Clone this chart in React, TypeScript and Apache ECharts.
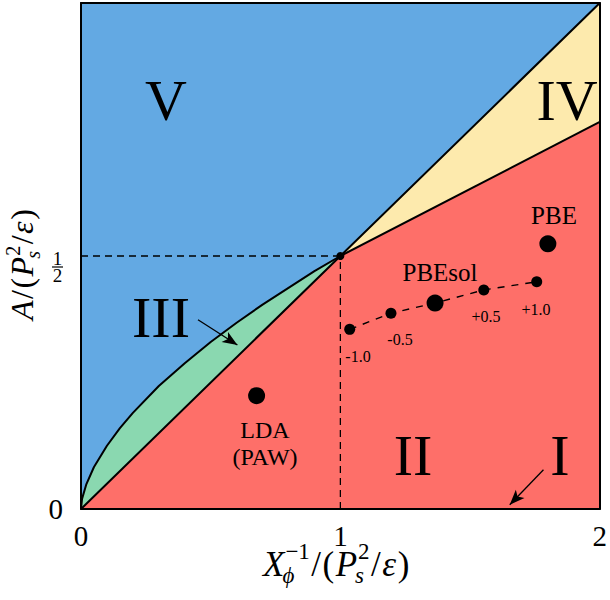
import React, { useEffect, useRef } from "react";
import * as echarts from "echarts";

// ---- data ----
const curveX = [0, 0.004, 0.02, 0.05, 0.1, 0.15, 0.2, 0.3, 0.4, 0.5, 0.6, 0.7, 0.8, 0.9, 1.0];
const curveY = [0, 0.02, 0.048, 0.083, 0.125, 0.16, 0.19, 0.243, 0.288, 0.33, 0.368, 0.404, 0.437, 0.47, 0.5];
const diagX = [0, 1, 2];
const diagY = [0, 0.5, 1];
const redTopX = [1, 2];
const redTopY = [0.5, 0.765];
const critical = [1, 0.5];
const bigDotNames = ["LDA (PAW)", "PBEsol", "PBE"];
const bigDotX = [0.677, 1.365, 1.8];
const bigDotY = [0.224, 0.407, 0.524];
const strainLabels = ["-1.0", "-0.5", "+0.5", "+1.0"];
const strainX = [1.036, 1.195, 1.553, 1.757];
const strainY = [0.355, 0.387, 0.433, 0.449];
const strainLineX = [1.036, 1.195, 1.365, 1.553, 1.757];
const strainLineY = [0.355, 0.387, 0.407, 0.433, 0.449];
const arrowFrom = [[0.451, 0.374], [1.783, 0.0776]];
const arrowTo = [[0.603, 0.324], [1.653, 0.0085]];
const xTicks = [0, 1, 2];
const regionNames = ["V", "IV", "III", "II", "I"];

const FAMILY = "Liberation Serif";
const BLUE = "#63a9e3";
const RED = "#fe6f69";
const GREEN = "#8ad8b0";
const YELLOW = "#fdeaad";

const zip = (xs: number[], ys: number[]) => xs.map((x, i) => [x, ys[i]]);

type Tok = { t: string; it?: boolean; sub?: string; subIt?: boolean; sup?: string };

let measureCtx: CanvasRenderingContext2D | null = null;
function measure(text: string, size: number, italic: boolean) {
  if (!measureCtx) measureCtx = document.createElement("canvas").getContext("2d");
  if (!measureCtx) return text.length * size * 0.5;
  measureCtx.font = `${italic ? "italic " : ""}${size}px "${FAMILY}"`;
  return measureCtx.measureText(text).width;
}

function textStyle(s: string, size: number, italic: boolean, align: string) {
  return {
    text: s,
    fontFamily: FAMILY,
    fontSize: size,
    fontStyle: italic ? "italic" : "normal",
    fill: "#000",
    align,
    textAlign: align,
    verticalAlign: "middle",
    textVerticalAlign: "middle",
  };
}

function mathChildren(tokens: Tok[], size: number, ss: number, raise: number) {
  const children: any[] = [];
  let x = 0;
  const put = (s: string, px: number, base: number, sz: number, it: boolean) => {
    children.push({
      type: "text",
      x: px,
      y: base - 0.3375 * sz,
      style: textStyle(s, sz, it, "left"),
    });
  };
  tokens.forEach((tk) => {
    const it = !!tk.it;
    put(tk.t, x, 0, size, it);
    x += measure(tk.t, size, it);
    let adv = 0;
    if (tk.sup) {
      put(tk.sup, x + 1, -raise * size, ss, false);
      adv = Math.max(adv, measure(tk.sup, ss, false) + 1);
    }
    if (tk.sub) {
      put(tk.sub, x - 2, 0.2 * size, ss, !!tk.subIt);
      adv = Math.max(adv, measure(tk.sub, ss, !!tk.subIt) - 2);
    }
    x += adv + 1.5;
  });
  return children;
}

const xNameTokens: Tok[] = [
  { t: "X", it: true, sub: "\u03d5", subIt: true, sup: "\u22121" },
  { t: "/" },
  { t: "(" },
  { t: "P", it: true, sub: "s", subIt: true, sup: "2" },
  { t: "/" },
  { t: "\u03b5", it: true },
  { t: ")" },
];
const yNameTokens: Tok[] = [
  { t: "A", it: true },
  { t: "/" },
  { t: "(" },
  { t: "P", it: true, sub: "s", subIt: true, sup: "2" },
  { t: "/" },
  { t: "\u03b5", it: true },
  { t: ")" },
];

function txt(s: string, x: number, y: number, size: number) {
  return { type: "text", x, y, z: 100, style: textStyle(s, size, false, "center") };
}

export default function App() {
  const ref = useRef<HTMLDivElement>(null);
  useEffect(() => {
    if (!ref.current) return;
    const chart = echarts.init(ref.current, null, { renderer: "svg" });
    const frameAxis = {
      type: "value",
      axisLine: { show: true, onZero: false, lineStyle: { color: "#000", width: 2 } },
      axisTick: { show: false },
      splitLine: { show: false },
      axisLabel: { show: false },
      z: 10,
    };
    const regionPos = [
      [166, 100],
      [567, 100],
      [161, 317],
      [413, 455],
      [560, 455],
    ];
    const strainPos = [
      [358, 356],
      [400, 339],
      [486, 316],
      [536, 309],
    ];
    const option: any = {
      animation: false,
      backgroundColor: "#fff",
      grid: { left: 81, right: 7, top: 3, bottom: 91, show: true, backgroundColor: BLUE, borderWidth: 0 },
      xAxis: [
        {
          ...frameAxis,
          min: 0,
          max: 2,
          interval: 1,
          position: "bottom",
          axisLabel: {
            show: true,
            fontFamily: FAMILY,
            fontSize: 29,
            color: "#000",
            margin: 12,
            formatter: (v: number) => (xTicks.includes(v) ? String(v) : ""),
          },
        },
        { ...frameAxis, min: 0, max: 2, interval: 1, position: "top" },
      ],
      yAxis: [
        {
          ...frameAxis,
          min: 0,
          max: 1,
          interval: 0.5,
          position: "left",
          axisLabel: {
            show: true,
            fontFamily: FAMILY,
            fontSize: 29,
            color: "#000",
            margin: 18,
            formatter: (v: number) =>
              v === 0 ? "0" : Math.abs(v - 0.5) < 1e-9 ? "{s| }\n{n|1}\n{b|}\n{d|2}" : "",
            rich: {
              s: { fontSize: 4, lineHeight: 22, align: "center" },
              n: { fontFamily: FAMILY, fontSize: 19, lineHeight: 15, color: "#000", align: "center" },
              b: { width: 11, height: 1.2, lineHeight: 2, backgroundColor: "#000", align: "center" },
              d: { fontFamily: FAMILY, fontSize: 19, lineHeight: 15, color: "#000", align: "center" },
            },
          },
        },
        { ...frameAxis, min: 0, max: 1, interval: 0.5, position: "right" },
      ],
      series: [
        {
          name: "III",
          type: "line",
          data: zip(curveX, curveY),
          showSymbol: false,
          lineStyle: { width: 0 },
          areaStyle: { color: GREEN, opacity: 1 },
          z: 2,
        },
        {
          name: "IV",
          type: "line",
          data: zip(diagX, diagY).filter((p) => p[0] >= 1),
          showSymbol: false,
          lineStyle: { width: 0 },
          areaStyle: { color: YELLOW, opacity: 1 },
          z: 2,
        },
        {
          name: "I/II",
          type: "line",
          data: [...zip(diagX, diagY).filter((p) => p[0] < 1), ...zip(redTopX, redTopY)],
          showSymbol: false,
          lineStyle: { width: 0 },
          areaStyle: { color: RED, opacity: 1 },
          z: 2,
        },
        {
          type: "line",
          data: zip(curveX, curveY),
          showSymbol: false,
          lineStyle: { color: "#000", width: 2 },
          z: 3,
        },
        {
          type: "line",
          data: zip(diagX, diagY),
          showSymbol: false,
          lineStyle: { color: "#000", width: 2 },
          z: 3,
          markLine: {
            silent: true,
            symbol: ["none", "arrow"],
            symbolSize: [9, 15],
            label: { show: false },
            lineStyle: { color: "#000", width: 1.3, type: "solid", opacity: 1 },
            data: arrowFrom.map((f, i) => [{ coord: f }, { coord: arrowTo[i] }]),
          },
        },
        {
          type: "line",
          data: zip(redTopX, redTopY),
          showSymbol: false,
          lineStyle: { color: "#000", width: 2 },
          z: 3,
        },
        {
          type: "line",
          data: [[0, critical[1]], critical],
          showSymbol: false,
          lineStyle: { color: "#000", width: 1.3, type: [7, 5] },
          z: 3,
        },
        {
          type: "line",
          data: [[critical[0], 0], critical],
          showSymbol: false,
          lineStyle: { color: "#000", width: 1.3, type: [7, 5] },
          z: 3,
        },
        {
          type: "line",
          data: zip(strainLineX, strainLineY),
          showSymbol: false,
          lineStyle: { color: "#000", width: 1.4, type: [7, 7] },
          z: 4,
        },
        {
          type: "scatter",
          data: zip(strainX, strainY),
          symbolSize: 11,
          itemStyle: { color: "#000", opacity: 1 },
          z: 5,
        },
        {
          type: "scatter",
          data: [critical],
          symbolSize: 8,
          itemStyle: { color: "#000", opacity: 1 },
          z: 5,
        },
        {
          type: "scatter",
          data: bigDotNames.map((n, i) => ({ name: n, value: [bigDotX[i], bigDotY[i]] })),
          symbolSize: 17,
          itemStyle: { color: "#000", opacity: 1 },
          z: 5,
        },
      ],
      graphic: [
        ...regionNames.map((n, i) => txt(n, regionPos[i][0], regionPos[i][1], 58)),
        txt("PBE", 554, 215, 25),
        txt("PBEsol", 440, 272, 25),
        txt("LDA", 265, 430, 24),
        txt("(PAW)", 265, 457, 24),
        ...strainLabels.map((s, i) => txt(s, strainPos[i][0], strainPos[i][1], 16)),
        { type: "group", x: 263, y: 576, children: mathChildren(xNameTokens, 35, 23, 0.47) },
        {
          type: "group",
          x: 33,
          y: 320,
          rotation: Math.PI / 2,
          children: mathChildren(yNameTokens, 32, 20, 0.4),
        },
      ],
    };
    chart.setOption(option);
    return () => chart.dispose();
  }, []);
  return (
    <div
      ref={ref}
      style={{ position: "absolute", left: 0, top: 0, width: 610, height: 600 }}
    />
  );
}
